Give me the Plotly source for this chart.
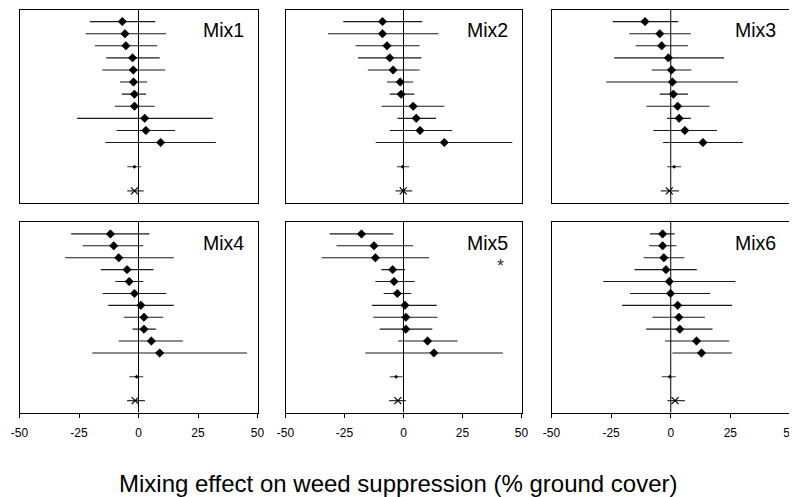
import plotly.graph_objects as go

# ---------------- data ----------------
mix_names = ["Mix1", "Mix2", "Mix3", "Mix4", "Mix5", "Mix6"]
tick_vals = [-50, -25, 0, 25, 50]
tick_text = ["-50", "-25", "0", "25", "50"]
x_title = "Mixing effect on weed suppression (% ground cover)"

# individual study rows (11 per mix): estimate, lower, upper
mix1_est = [-6.8, -5.7, -5.3, -2.5, -2.2, -2.1, -1.7, -1.7, 2.6, 3.1, 9.3]
mix1_lo = [-20.4, -22.2, -18.3, -13.5, -15.2, -7.8, -7.0, -10.0, -25.8, -9.2, -13.9]
mix1_hi = [7.0, 11.6, 7.9, 8.9, 11.2, 3.6, 3.2, 6.8, 31.2, 15.3, 32.5]

mix2_est = [-8.9, -8.9, -7.0, -5.8, -4.4, -1.4, -1.0, 4.1, 5.4, 7.0, 17.3]
mix2_lo = [-25.5, -32.0, -20.3, -19.3, -15.1, -7.0, -5.8, -9.3, -2.5, -5.8, -11.8]
mix2_hi = [7.9, 14.8, 6.8, 7.6, 6.8, 4.1, 4.6, 17.3, 13.8, 20.6, 46.1]

mix3_est = [-10.8, -4.6, -3.8, -1.0, 0.3, 0.7, 1.1, 2.9, 3.5, 5.9, 13.5]
mix3_lo = [-24.4, -17.4, -14.7, -23.7, -8.0, -27.1, -4.6, -10.2, -1.5, -7.3, -3.2]
mix3_hi = [3.1, 8.4, 7.2, 22.3, 8.7, 28.2, 7.2, 16.3, 8.4, 19.4, 30.3]

mix4_est = [-11.8, -10.4, -8.3, -4.8, -3.9, -1.7, 1.0, 2.3, 2.3, 5.4, 8.9]
mix4_lo = [-28.3, -23.5, -30.8, -15.9, -9.7, -15.1, -12.7, -6.2, -2.5, -8.3, -19.4]
mix4_hi = [4.6, 2.0, 14.8, 6.3, 2.0, 11.7, 14.8, 10.4, 7.3, 18.7, 45.6]

mix5_est = [-17.8, -12.5, -11.9, -4.6, -4.0, -2.6, 0.6, 1.0, 1.0, 10.2, 12.9]
mix5_lo = [-31.3, -28.4, -34.7, -9.4, -11.9, -8.4, -13.4, -12.8, -10.1, -2.3, -16.2]
mix5_hi = [-4.3, 4.1, 10.8, 0.7, 4.7, 3.3, 14.1, 14.4, 12.2, 22.9, 42.1]

mix6_est = [-3.4, -3.4, -2.9, -2.0, -0.6, -0.1, 2.9, 3.4, 3.8, 10.8, 12.9]
mix6_lo = [-8.7, -9.1, -11.3, -15.2, -28.3, -17.1, -20.4, -7.7, -10.3, -2.4, 0.7]
mix6_hi = [1.7, 2.4, 5.7, 10.9, 27.1, 16.5, 25.7, 14.3, 17.5, 24.5, 25.7]

# pooled effect per mix (small marker row)
pooled_est = [-1.7, -0.4, 1.4, -0.8, -3.1, -0.4]
pooled_lo = [-4.7, -2.8, -1.5, -3.9, -5.8, -3.8]
pooled_hi = [1.0, 2.4, 4.3, 2.0, -0.4, 2.1]

# overall effect per mix ("x" marker row)
overall_est = [-1.7, -0.1, -0.6, -1.4, -2.4, 1.8]
overall_lo = [-4.7, -3.4, -4.2, -4.8, -6.1, -1.4]
overall_hi = [2.2, 3.7, 3.5, 2.7, 1.0, 5.9]

# significance marks per mix
signif = ["", "", "", "", "*", ""]

study_est = [mix1_est, mix2_est, mix3_est, mix4_est, mix5_est, mix6_est]
study_lo = [mix1_lo, mix2_lo, mix3_lo, mix4_lo, mix5_lo, mix6_lo]
study_hi = [mix1_hi, mix2_hi, mix3_hi, mix4_hi, mix5_hi, mix6_hi]

# row order: studies 1..11, gap, pooled, gap, overall
n_rows = 16
study_rows = list(range(1, 12))
pooled_row = 13
overall_row = 15

# ---------------- layout ----------------
# page body has an 8px default margin; the figure fills the rest of the window
OFF = 8
W, H = 797 - OFF, 497 - OFF
col_px = [(19.5, 257.5), (285.5, 521.5), (551.5, 790.0)]
row_px = [(9.5, 203.0), (222.0, 412.5)]


def fx(px):
    return (px - OFF) / W


def fy(py):
    return 1 - (py - OFF) / H


FONT = "Arial, Liberation Sans, Helvetica, sans-serif"
LINE = "#000000"

fig = go.Figure()
layout = dict(
    width=W, height=H,
    margin=dict(l=0, r=0, t=0, b=0, pad=0),
    paper_bgcolor="white", plot_bgcolor="white",
    showlegend=False,
    font=dict(family=FONT, color="black"),
)
shapes = []
annotations = []

for i, name in enumerate(mix_names):
    r, c = divmod(i, 3)
    k = i + 1
    xa = "x" if k == 1 else f"x{k}"
    ya = "y" if k == 1 else f"y{k}"
    xk = "xaxis" if k == 1 else f"xaxis{k}"
    yk = "yaxis" if k == 1 else f"yaxis{k}"
    x0, x1 = col_px[c]
    y0, y1 = row_px[r]
    bottom = r == 1
    layout[xk] = dict(
        domain=[fx(x0), fx(x1)], anchor=ya, range=[-50, 50],
        showgrid=False, zeroline=False, automargin=False,
        showline=True, mirror=True, linecolor=LINE, linewidth=1,
        tickvals=tick_vals, ticktext=tick_text,
        ticks="outside" if bottom else "", ticklen=4, tickcolor=LINE,
        showticklabels=bottom, ticklabelstandoff=5,
        tickfont=dict(size=12, family=FONT, color="black"),
    )
    layout[yk] = dict(
        domain=[fy(y1), fy(y0)], anchor=xa, range=[n_rows, 0],
        showgrid=False, zeroline=False, showticklabels=False, ticks="",
        automargin=False,
        showline=True, mirror=True, linecolor=LINE, linewidth=1,
    )

    est, lo, hi = study_est[i], study_lo[i], study_hi[i]
    fig.add_trace(go.Scatter(
        x=est, y=study_rows, xaxis=xa, yaxis=ya, mode="markers",
        marker=dict(symbol="diamond", size=6.5, color="black",
                    line=dict(width=0.6, color="black")),
        error_x=dict(type="data", symmetric=False,
                     array=[h - e for h, e in zip(hi, est)],
                     arrayminus=[e - l for e, l in zip(est, lo)],
                     width=0, thickness=1.1, color="#1a1a1a"),
    ))
    fig.add_trace(go.Scatter(
        x=[pooled_est[i]], y=[pooled_row], xaxis=xa, yaxis=ya, mode="markers",
        marker=dict(symbol="diamond", size=3, color="black"),
        error_x=dict(type="data", symmetric=False,
                     array=[pooled_hi[i] - pooled_est[i]],
                     arrayminus=[pooled_est[i] - pooled_lo[i]],
                     width=0, thickness=1.1, color="#333333"),
    ))
    fig.add_trace(go.Scatter(
        x=[overall_est[i]], y=[overall_row], xaxis=xa, yaxis=ya, mode="markers",
        marker=dict(symbol="x-thin-open", size=7, color="black",
                    line=dict(width=1.2, color="black")),
        error_x=dict(type="data", symmetric=False,
                     array=[overall_hi[i] - overall_est[i]],
                     arrayminus=[overall_est[i] - overall_lo[i]],
                     width=0, thickness=1.1, color="#333333"),
    ))

    # zero reference line
    shapes.append(dict(type="line", xref=xa, yref=f"{ya} domain",
                       x0=0, x1=0, y0=0, y1=1,
                       line=dict(color=LINE, width=1)))
    # panel label (top-right corner)
    annotations.append(dict(
        text=name, xref="paper", yref="paper",
        x=fx(x1 - 12), y=fy(y0 + 20.5), xanchor="right", yanchor="middle",
        showarrow=False, font=dict(size=19.5, family=FONT, color="black"),
    ))
    if signif[i]:
        annotations.append(dict(
            text=signif[i], xref="paper", yref="paper",
            x=fx(x1 - 21), y=fy(y0 + 44), xanchor="center", yanchor="middle",
            showarrow=False, font=dict(size=18, family=FONT, color="#333333"),
        ))

annotations.append(dict(
    text=x_title, xref="paper", yref="paper",
    x=fx(398.5), y=fy(483), xanchor="center", yanchor="middle",
    showarrow=False, font=dict(size=24, family=FONT, color="black"),
))

layout["shapes"] = shapes
layout["annotations"] = annotations
fig.update_layout(**layout)
fig.write_html("out.html")
